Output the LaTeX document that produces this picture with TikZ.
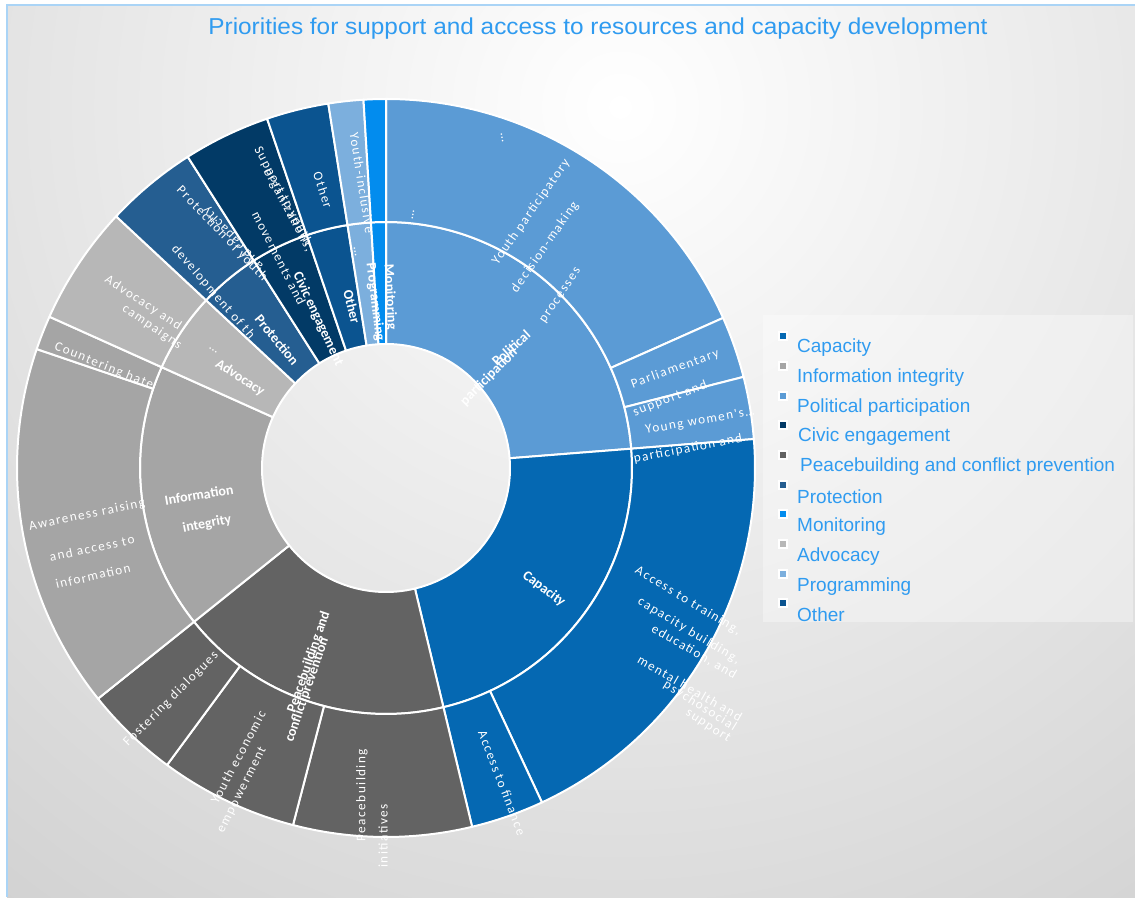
\documentclass[tikz,border=0pt]{standalone}
\usepackage{fontspec}
\setmainfont{Liberation Sans}
\newfontfamily\labfont[LetterSpace=11]{Carlito}
\newfontfamily\labbfont{Carlito}
\definecolor{cpol}{RGB}{91,155,213}
\definecolor{ccap}{RGB}{5,104,178}
\definecolor{cinfo}{RGB}{165,165,165}
\definecolor{cadv}{RGB}{183,183,183}
\definecolor{cpeace}{RGB}{99,99,99}
\definecolor{cprot}{RGB}{37,94,145}
\definecolor{ccivic}{RGB}{2,58,102}
\definecolor{cother}{RGB}{11,84,144}
\definecolor{cprog}{RGB}{124,175,221}
\definecolor{cmon}{RGB}{2,140,238}
\definecolor{ctitle}{RGB}{47,155,240}
\definecolor{cframe}{RGB}{170,212,246}
\definecolor{bgdark}{RGB}{188,188,188}
\newcommand\sbwedge[5]{\fill[#5, draw=white, line width=2pt, line join=round] (#3:#1pt) arc[start angle=#3, end angle=#4, radius=#1pt] -- (#4:#2pt) arc[start angle=#4, end angle=#3, radius=#2pt] -- cycle;}
\tikzset{
  olab/.style={font=\labfont\fontsize{13.2}{14}\selectfont, text=white, inner sep=0pt},
  blab/.style={font=\labbfont\bfseries\fontsize{14}{15}\selectfont, text=white, inner sep=0pt},
  legtext/.style={font=\fontsize{19}{21}\selectfont, text=ctitle, anchor=west, inner sep=0pt},
  mk/.style={draw=white, line width=2pt, minimum size=8pt, inner sep=0pt}
}
\begin{document}
\begin{tikzpicture}[x=1pt,y=1pt]
\useasboundingbox (0,0) rectangle (1135,897);
\fill[white] (0,0) rectangle (1135,897);
\fill[bgdark] (7,0) rectangle (1135,892);
\begin{scope}
\clip (7,0) rectangle (1135,892);
\shade[inner color=white, outer color=bgdark] (620,790) circle (1500);
\end{scope}
\draw[cframe, line width=2.5pt] (7,0) -- (7,892) -- (1135,892);
% sunburst
\begin{scope}[shift={(386,429)}]
% middle ring
\sbwedge{124}{246}{4.5}{90}{cpol}
\sbwedge{124}{246}{-76.5}{4.5}{ccap}
\sbwedge{124}{246}{-141.3}{-76.5}{cpeace}
\sbwedge{124}{246}{155.8}{218.7}{cinfo}
\sbwedge{124}{246}{137}{155.8}{cadv}
\sbwedge{124}{246}{122.5}{137}{cprot}
\sbwedge{124}{246}{108.8}{122.5}{ccivic}
\sbwedge{124}{246}{99}{108.8}{cother}
\sbwedge{124}{246}{93.5}{99}{cprog}
\sbwedge{124}{246}{90}{93.5}{cmon}
% outer ring
\sbwedge{246}{369}{24}{90}{cpol}
\sbwedge{246}{369}{14.3}{24}{cpol}
\sbwedge{246}{369}{4.5}{14.3}{cpol}
\sbwedge{246}{369}{-65}{4.5}{ccap}
\sbwedge{246}{369}{-76.5}{-65}{ccap}
\sbwedge{246}{369}{-104.6}{-76.5}{cpeace}
\sbwedge{246}{369}{-126.4}{-104.6}{cpeace}
\sbwedge{246}{369}{-141.3}{-126.4}{cpeace}
\sbwedge{246}{369}{161.2}{218.7}{cinfo}
\sbwedge{246}{369}{155.8}{161.2}{cinfo}
\sbwedge{246}{369}{137}{155.8}{cadv}
\sbwedge{246}{369}{122.5}{137}{cprot}
\sbwedge{246}{369}{108.8}{122.5}{ccivic}
\sbwedge{246}{369}{99}{108.8}{cother}
\sbwedge{246}{369}{93.5}{99}{cprog}
\sbwedge{246}{369}{90}{93.5}{cmon}
\end{scope}
% texts in pixel coordinates
\begin{scope}[shift={(0,897)}, yscale=-1]
\node[font=\fontsize{23}{25}\selectfont, text=ctitle, inner sep=0pt] (title) at (598,29) {\scalebox{1.06}[1]{Priorities for support and access to resources and capacity development}};
% legend
\fill[white, opacity=0.35] (763,315) rectangle (1133,622);
\node[mk, fill=ccap] (m1) at (783,336) {};
\node[mk, fill=cinfo] (m2) at (783,366) {};
\node[mk, fill=cpol] (m3) at (783,396) {};
\node[mk, fill=ccivic] (m4) at (783,425) {};
\node[mk, fill=cpeace] (m5) at (783,455) {};
\node[mk, fill=cprot] (m6) at (783,485) {};
\node[mk, fill=cmon] (m7) at (783,514) {};
\node[mk, fill=cadv] (m8) at (783,544) {};
\node[mk, fill=cprog] (m9) at (783,574) {};
\node[mk, fill=cother] (m10) at (783,603) {};
\node[legtext] (l1) at (797,348) {Capacity};
\node[legtext] (l2) at (797,378) {Information integrity};
\node[legtext] (l3) at (797,408) {Political participation};
\node[legtext] (l4) at (798,437) {Civic engagement};
\node[legtext] (l5) at (800,467) {Peacebuilding and conflict prevention};
\node[legtext] (l6) at (797,497) {Protection};
\node[legtext] (l7) at (797,527) {Monitoring};
\node[legtext] (l8) at (797,557) {Advocacy};
\node[legtext] (l9) at (797,587) {Programming};
\node[legtext] (l10) at (797,615) {Other};
% outer labels
\node[olab, rotate=-80] (t1) at (502,138) {…};
\node[olab, rotate=55] (t2) at (531,212) {Youth participatory};
\node[olab, rotate=55] (t3) at (545,247) {decision-making};
\node[olab, rotate=56] (t4) at (561,296) {processes};
\node[olab, rotate=80] (t5) at (413,215) {…};
\node[olab, rotate=20] (t6) at (675,369) {Parliamentary};
\node[olab, rotate=21] (t7) at (670,399) {support and};
\node[olab, rotate=10] (t8) at (700,421) {Young women's…};
\node[olab, rotate=11] (t9) at (688,449) {participation and};
\node[olab, rotate=-31] (t10) at (688,601) {Access to training,};
\node[olab, rotate=-31] (t11) at (689,631) {capacity building,};
\node[olab, rotate=-30] (t12) at (694,652) {education, and};
\node[olab, rotate=-30] (t13) at (690,688) {mental health and};
\node[olab, rotate=-32] (t14) at (700,706) {psychosocial};
\node[olab, rotate=-33] (t15) at (708,726) {support};
\node[olab, rotate=-69] (t16) at (502,783) {Access to finance};
\node[olab, rotate=90] (t17) at (362,795) {Peacebuilding};
\node[olab, rotate=90] (t18) at (383,836) {initiatives};
\node[olab, rotate=62] (t19) at (238,757) {Youth economic};
\node[olab, rotate=63] (t20) at (242,790) {empowerment};
\node[olab, rotate=45] (t21) at (171,699) {Fostering dialogues};
\node[olab, rotate=11.5] (t22) at (87,515) {Awareness raising};
\node[olab, rotate=12] (t23) at (92,548) {and access to};
\node[olab, rotate=13] (t24) at (93,576) {information};
\node[olab, rotate=-22] (t25) at (104,366) {Countering hate};
\node[olab, rotate=-33] (t26) at (143,303) {Advocacy and};
\node[olab, rotate=-34] (t27) at (152,327) {campaigns};
\node[olab, rotate=-46.5] (t28) at (222,234) {Protection of youth};
\node[olab, rotate=133.5] (t29) at (233,238) {and capacity};
\node[olab, rotate=-49] (t30) at (213,292) {development of th};
\node[olab, rotate=-62] (t31) at (283,196) {Support to youth};
\node[olab, rotate=-62] (t32) at (288,210) {organizations,};
\node[olab, rotate=-63] (t33) at (279,258) {movements and};
\node[olab, rotate=-72] (t34) at (323,190) {Other};
\node[olab, rotate=-81] (t35) at (362,183) {Youth-inclusive};
\node[olab, rotate=-80] (t36) at (355,252) {…};
% category labels
\node[blab, rotate=42] (b1) at (511,348) {Political};
\node[blab, rotate=45] (b2) at (489,377) {participation};
\node[blab, rotate=-37] (b3) at (544,589) {Capacity};
\node[blab, rotate=71] (b4) at (309,662) {Peacebuilding and};
\node[blab, rotate=71] (b5) at (307,690) {conflict prevention};
\node[blab, rotate=9.5] (b6) at (199,495) {Information};
\node[blab, rotate=11] (b7) at (207,524) {integrity};
\node[olab, rotate=-33] (b8) at (213,350) {…};
\node[blab, rotate=-32.5] (b9) at (240,378) {Advocacy};
\node[blab, rotate=-50.6] (b10) at (277,340) {Protection};
\node[blab, rotate=-65] (b11) at (318,319) {Civic engagement};
\node[blab, rotate=-76] (b12) at (352,307) {Other};
\node[blab, rotate=-83] (b13) at (375,302) {Programming};
\node[blab, rotate=-87] (b14) at (390,297) {Monitoring};
\end{scope}
\end{tikzpicture}
\end{document}
